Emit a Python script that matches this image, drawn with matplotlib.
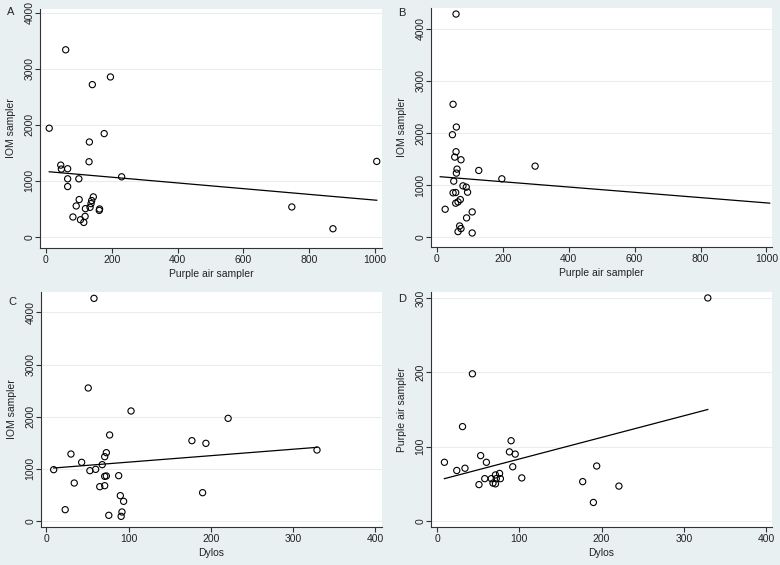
import matplotlib
matplotlib.use("Agg")
import matplotlib.pyplot as plt

plt.rcParams['font.family'] = ['Liberation Sans', 'DejaVu Sans']
plt.rcParams['font.size'] = 7.5

# panel A: IOM vs Purple air
a_x = [10, 60, 141, 196, 177, 132, 131, 45, 47, 66, 66, 100, 66, 230, 101, 144, 139, 137,
       92, 120, 134, 163, 162, 82, 119, 105, 115, 747, 872, 1005]
a_y = [1940, 3341, 2719, 2856, 1844, 1694, 1341, 1281, 1210, 1216, 1036, 1036, 898, 1072,
       665, 713, 647, 593, 551, 503, 527, 497, 472, 354, 365, 305, 257, 533, 144, 1347]
a_fit_x = [10, 1005]
a_fit_y = [1162, 653]

# panel B: IOM vs Purple air
b_x = [58, 49, 59, 47, 58, 54, 73, 61, 59, 127, 197, 298, 51, 79, 89, 49, 57, 93,
       57, 64, 71, 25, 107, 90, 69, 73, 64, 107]
b_y = [4282, 2551, 2115, 1968, 1641, 1538, 1487, 1308, 1231, 1282, 1122, 1365, 1077, 987,
       962, 853, 859, 865, 654, 679, 724, 538, 487, 372, 218, 167, 109, 83]
b_fit_x = [10, 1010]
b_fit_y = [1162, 655]

# panel C: IOM vs Dylos
c_x = [58, 51, 103, 221, 77, 177, 194, 329, 30, 73, 71, 43, 68, 9, 53, 60, 71, 73, 88,
       34, 65, 71, 90, 94, 23, 92, 91, 76, 190]
c_y = [4268, 2550, 2109, 1968, 1649, 1540, 1489, 1361, 1284, 1310, 1233, 1125, 1080, 984,
       965, 990, 856, 863, 869, 728, 658, 677, 486, 377, 217, 173, 89, 109, 543]
c_fit_x = [9, 329]
c_fit_y = [1016, 1412]

# panel D: Purple air vs Dylos
d_x = [329, 43, 31, 90, 88, 95, 53, 9, 60, 24, 34, 92, 194, 58, 71, 76, 66, 72, 77,
       103, 68, 71, 51, 177, 221, 190]
d_y = [300, 198, 127, 108, 93, 90, 88, 79, 79, 68, 71, 73, 74, 57, 62, 64, 57, 57, 57,
       58, 51, 50, 49, 53, 47, 25]
d_fit_x = [9, 329]
d_fit_y = [57, 150]

W, H = 780, 565
bg = '#e9f0f2'
fig = plt.figure(figsize=(W / 100, H / 100), dpi=100, facecolor=bg)

def px_axes(l, t, r, b):
    return fig.add_axes([l / W, 1 - b / H, (r - l) / W, (b - t) / H])

# letter, axes box (px), letter y (px), data, limits, ticks, labels
panels = [
    ('A', (40, 9, 382, 248), 12, a_x, a_y, a_fit_x, a_fit_y, (-18, 1021), (-200, 4070),
     range(0, 1001, 200), range(0, 4001, 1000), 'Purple air sampler', 'IOM sampler'),
    ('B', (431, 8, 772, 247), 13, b_x, b_y, b_fit_x, b_fit_y, (-18, 1017), (-186, 4398),
     range(0, 1001, 200), range(0, 4001, 1000), 'Purple air sampler', 'IOM sampler'),
    ('C', (41, 292, 382, 527), 302, c_x, c_y, c_fit_x, c_fit_y, (-6.4, 408), (-115, 4390),
     range(0, 401, 100), range(0, 4001, 1000), 'Dylos', 'IOM sampler'),
    ('D', (431, 292, 772, 527), 299, d_x, d_y, d_fit_x, d_fit_y, (-7.3, 407), (-8, 308),
     range(0, 401, 100), range(0, 301, 100), 'Dylos', 'Purple air sampler'),
]

for letter, box, ly, x, y, fx, fy, xl, yl, xt, yt, xlab, ylab in panels:
    l, t, r, b = box
    ax = px_axes(l, t, r, b)
    ax.set_facecolor('white')
    ax.scatter(x, y, s=20, facecolors='none', edgecolors='black', linewidths=0.8, zorder=3)
    ax.plot(fx, fy, color='black', linewidth=0.9, zorder=2)
    ax.set_xlim(xl)
    ax.set_ylim(yl)
    ax.set_xticks(list(xt))
    ax.set_yticks(list(yt))
    ax.grid(axis='y', color='#e8eef0', linewidth=0.8, zorder=0)
    for s in ['top', 'right']:
        ax.spines[s].set_visible(False)
    for s in ['left', 'bottom']:
        ax.spines[s].set_color('#333333')
        ax.spines[s].set_linewidth(0.8)
    ax.tick_params(colors='#333333', labelcolor='#222222', length=3.5, width=0.8, pad=1.5)
    ax.tick_params(axis='y', pad=0.5)
    for lab in ax.get_yticklabels():
        lab.set_rotation(90)
        lab.set_va('center')
    ax.set_xlabel(xlab, color='#222222')
    ax.set_ylabel(ylab, color='#222222')
    ax.xaxis.set_label_coords(0.5, -21 / (b - t))
    ax.yaxis.set_label_coords(-24 / (r - l), 0.5)
    fig.text((l - 33) / W, 1 - ly / H, letter, ha='left', va='center', fontsize=8,
             color='#222222')

fig.savefig('out.png', dpi=100, facecolor=bg)
